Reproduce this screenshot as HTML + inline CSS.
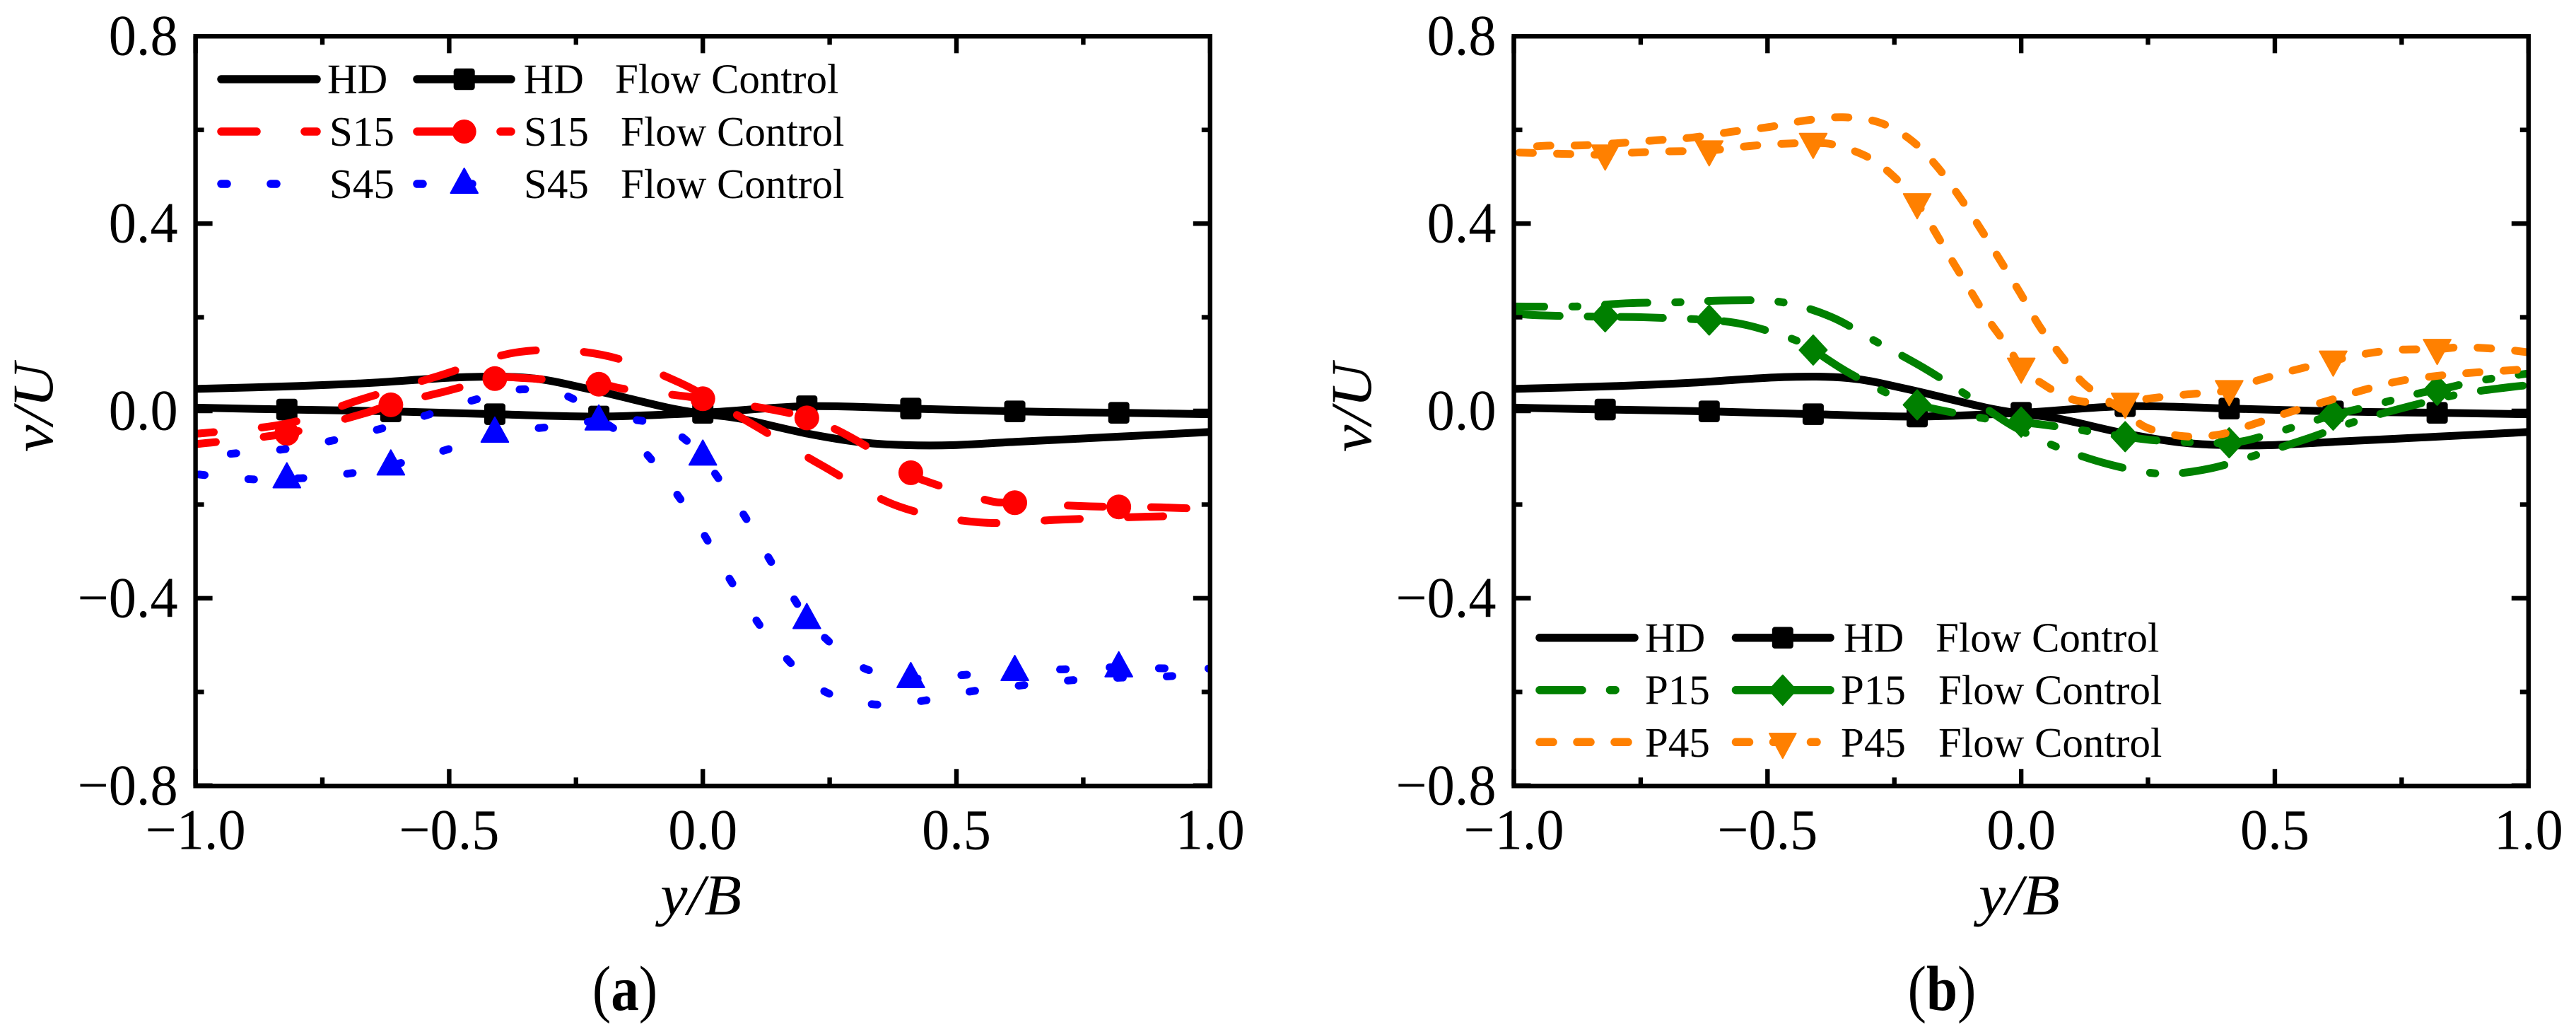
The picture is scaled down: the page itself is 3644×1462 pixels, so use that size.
<!DOCTYPE html>
<html lang="en">
<head>
<meta charset="utf-8">
<title>v/U velocity profiles with and without flow control</title>
<style>
html,body{margin:0;padding:0;background:#fff;}
svg{display:block;}
text{font-family:"Liberation Serif","Times New Roman",serif;fill:#000;}
</style>
</head>
<body>
<svg id="figure" xmlns="http://www.w3.org/2000/svg" width="3644" height="1462" viewBox="0 0 3644 1462">
<rect x="0" y="0" width="3644" height="1462" fill="#fff"/>
<defs>
<clipPath id="clip-a"><rect x="276.6" y="51.3" width="1435.2" height="1060"/></clipPath>
<clipPath id="clip-b"><rect x="2141.5" y="51.3" width="1435.3" height="1060"/></clipPath>
</defs>
<g id="plot-a"></g>
<g id="plot-b"></g>

<!-- Legend panel a -->
<g font-size="59">
  <g>
    <line x1="313" y1="112" x2="448" y2="112" stroke="#000" stroke-width="11.5" stroke-linecap="round"/>
    <text x="463" y="131.7">HD</text>
  </g>
  <g>
    <line x1="590" y1="112" x2="723" y2="112" stroke="#000" stroke-width="11.5" stroke-linecap="round"/>
    <rect x="641.7" y="96.7" width="30" height="30.6" rx="4" fill="#000"/>
    <text x="740.7" y="131.7">HD</text>
    <text x="870" y="131.7">Flow Control</text>
  </g>
  <g>
    <line x1="313" y1="186" x2="448" y2="186" stroke="#f00" stroke-width="11.5" stroke-linecap="round" stroke-dasharray="50 68"/>
    <text x="466" y="206">S15</text>
  </g>
  <g>
    <line x1="590" y1="186" x2="723" y2="186" stroke="#f00" stroke-width="11.5" stroke-linecap="round" stroke-dasharray="50 68"/>
    <circle cx="656.7" cy="186" r="17" fill="#f00"/>
    <text x="741" y="206">S15</text>
    <text x="878" y="206">Flow Control</text>
  </g>
  <g>
    <line x1="313" y1="260" x2="448" y2="260" stroke="#00f" stroke-width="11.5" stroke-linecap="round" stroke-dasharray="8 62"/>
    <text x="466" y="280">S45</text>
  </g>
  <g>
    <line x1="590" y1="260" x2="723" y2="260" stroke="#00f" stroke-width="11.5" stroke-linecap="round" stroke-dasharray="8 62"/>
    <polygon points="656.7,238 676,273 637.5,273" fill="#00f" stroke="#00f" stroke-width="2" stroke-linejoin="round"/>
    <text x="741" y="280">S45</text>
    <text x="878" y="280">Flow Control</text>
  </g>
</g>

<!-- Legend panel b -->
<g font-size="59">
  <g>
    <line x1="2178" y1="901.7" x2="2312" y2="901.7" stroke="#000" stroke-width="11.5" stroke-linecap="round"/>
    <text x="2327" y="921.7">HD</text>
  </g>
  <g>
    <line x1="2455.5" y1="901.7" x2="2589" y2="901.7" stroke="#000" stroke-width="11.5" stroke-linecap="round"/>
    <rect x="2506.8" y="886.4" width="30" height="30.6" rx="4" fill="#000"/>
    <text x="2608" y="921.7">HD</text>
    <text x="2738" y="921.7">Flow Control</text>
  </g>
  <g>
    <line x1="2178" y1="975.7" x2="2312" y2="975.7" stroke="#008000" stroke-width="11.5" stroke-linecap="round" stroke-dasharray="60 39.5 7.5 39"/>
    <text x="2327" y="995.7">P15</text>
  </g>
  <g>
    <line x1="2455.5" y1="975.7" x2="2589" y2="975.7" stroke="#008000" stroke-width="11.5" stroke-linecap="round"/>
    <polygon points="2521.8,954.7 2541,975.7 2521.8,997 2502.5,975.7" fill="#008000" stroke="#008000" stroke-width="2" stroke-linejoin="round"/>
    <text x="2604" y="995.7">P15</text>
    <text x="2742" y="995.7">Flow Control</text>
  </g>
  <g>
    <line x1="2178" y1="1049.3" x2="2312" y2="1049.3" stroke="#ff8000" stroke-width="11.5" stroke-linecap="round" stroke-dasharray="19 34"/>
    <text x="2327" y="1070">P45</text>
  </g>
  <g>
    <line x1="2455.5" y1="1049.3" x2="2570" y2="1049.3" stroke="#ff8000" stroke-width="11.5" stroke-linecap="round" stroke-dasharray="19 34"/>
    <polygon points="2521.8,1072 2503,1037 2540.6,1037" fill="#ff8000" stroke="#ff8000" stroke-width="2" stroke-linejoin="round"/>
    <text x="2604" y="1070">P45</text>
    <text x="2742" y="1070">Flow Control</text>
  </g>
</g>

<!-- Captions -->
<g transform="translate(884,1428) scale(.88,1)" font-size="90" text-anchor="middle"><text>(<tspan font-weight="bold">a</tspan>)</text></g>
<g transform="translate(2747,1428) scale(.88,1)" font-size="90" text-anchor="middle"><text>(<tspan font-weight="bold">b</tspan>)</text></g>
</svg>

<script>
// ---------- Shared axis values ----------
const xTicksMajor = [-1, -0.5, 0, 0.5, 1];
const xTicksMinor = [-0.75, -0.25, 0.25, 0.75];
const xTickLabels = ['\u22121.0', '\u22120.5', '0.0', '0.5', '1.0'];
const yTicksMajor = [0.8, 0.4, 0, -0.4, -0.8];
const yTicksMinor = [0.6, 0.2, -0.2, -0.6];
const yTickLabels = ['0.8', '0.4', '0.0', '\u22120.4', '\u22120.8'];
const markerX = [-0.82, -0.615, -0.41, -0.205, 0, 0.205, 0.41, 0.615, 0.82];

// ---------- HD (both panels) ----------
const hdX = [-1, -0.8, -0.652, -0.475, -0.34, -0.226, -0.069, 0.008, 0.076, 0.204, 0.312, 0.4, 0.495, 0.616, 0.82, 1];
const hdV = [0.047, 0.053, 0.06, 0.072, 0.07, 0.047, 0.007, -0.007, -0.017, -0.048, -0.067, -0.073, -0.073, -0.066, -0.055, -0.045];
const hdFcX = [-1, -0.82, -0.615, -0.41, -0.205, 0, 0.205, 0.41, 0.615, 0.82, 1];
const hdFcV = [0.007, 0.003, -0.001, -0.007, -0.012, -0.004, 0.01, 0.005, -0.001, -0.004, -0.007];

// ---------- Panel a ----------
const s15X = [-1, -0.82, -0.678, -0.52, -0.361, -0.2, -0.045, 0.094, 0.234, 0.384, 0.546, 0.709, 0.872, 1];
const s15V = [-0.049, -0.027, 0.023, 0.075, 0.126, 0.12, 0.06, -0.026, -0.116, -0.203, -0.238, -0.232, -0.226, -0.223];
const s15FcX = [-1, -0.82, -0.673, -0.615, -0.51, -0.41, -0.35, -0.205, -0.155, -0.048, 0, 0.13, 0.205, 0.281, 0.41, 0.44, 0.561, 0.615, 0.74, 0.82, 0.904, 1];
const s15FcV = [-0.071, -0.048, -0.007, 0.013, 0.041, 0.069, 0.07, 0.057, 0.047, 0.033, 0.026, 0.004, -0.015, -0.05, -0.132, -0.15, -0.191, -0.196, -0.203, -0.205, -0.206, -0.21];
const s45X = [-1, -0.925, -0.827, -0.733, -0.638, -0.544, -0.452, -0.356, -0.266, -0.194, -0.119, -0.055, 0, 0.048, 0.101, 0.155, 0.235, 0.331, 0.427, 0.522, 0.62, 0.717, 0.813, 0.911, 1];
const s45V = [-0.1, -0.091, -0.082, -0.064, -0.039, -0.009, 0.023, 0.046, 0.031, -0.024, -0.083, -0.172, -0.26, -0.35, -0.44, -0.517, -0.596, -0.626, -0.62, -0.6, -0.587, -0.576, -0.57, -0.567, -0.56];
const s45FcX = [-1, -0.891, -0.82, -0.782, -0.686, -0.615, -0.578, -0.485, -0.41, -0.372, -0.276, -0.205, -0.165, -0.073, 0, 0.023, 0.082, 0.13, 0.182, 0.205, 0.233, 0.315, 0.41, 0.451, 0.547, 0.615, 0.655, 0.751, 0.82, 0.861, 0.958, 1];
const s45FcV = [-0.135, -0.146, -0.1435, -0.143, -0.132, -0.116, -0.106, -0.076, -0.046, -0.042, -0.031, -0.02, -0.016, -0.034, -0.095, -0.132, -0.224, -0.314, -0.405, -0.444, -0.477, -0.548, -0.57, -0.569, -0.561, -0.555, -0.554, -0.55, -0.547, -0.549, -0.55, -0.55];

// ---------- Panel b ----------
const p15X = [-1, -0.88, -0.774, -0.676, -0.571, -0.471, -0.375, -0.286, -0.194, -0.109, -0.017, 0.073, 0.173, 0.275, 0.372, 0.47, 0.567, 0.666, 0.769, 0.865, 0.957, 1];
const p15V = [0.223, 0.223, 0.23, 0.232, 0.236, 0.232, 0.201, 0.148, 0.093, 0.035, -0.032, -0.078, -0.114, -0.134, -0.123, -0.092, -0.058, -0.02, 0.011, 0.036, 0.05, 0.055];
const p15FcX = [-1, -0.948, -0.82, -0.745, -0.615, -0.54, -0.447, -0.41, -0.344, -0.251, -0.205, -0.128, -0.038, 0, 0.075, 0.205, 0.281, 0.41, 0.486, 0.58, 0.615, 0.69, 0.786, 0.82, 0.9, 1];
const p15FcV = [0.208, 0.204, 0.201, 0.2, 0.194, 0.183, 0.152, 0.13, 0.084, 0.031, 0.013, -0.005, -0.022, -0.024, -0.034, -0.055, -0.064, -0.068, -0.051, -0.02, -0.009, 0.011, 0.038, 0.044, 0.064, 0.08];
const p45X = [-1, -0.941, -0.866, -0.79, -0.718, -0.646, -0.571, -0.498, -0.426, -0.352, -0.28, -0.218, -0.166, -0.119, -0.079, -0.04, -0.001, 0.036, 0.078, 0.126, 0.205, 0.248, 0.32, 0.393, 0.464, 0.534, 0.606, 0.676, 0.747, 0.822, 0.895, 0.968, 1];
const p45V = [0.56, 0.566, 0.567, 0.572, 0.578, 0.584, 0.596, 0.606, 0.62, 0.627, 0.616, 0.579, 0.522, 0.453, 0.387, 0.319, 0.25, 0.181, 0.119, 0.056, -0.002, -0.036, -0.054, -0.05, -0.026, -0.001, 0.022, 0.045, 0.064, 0.075, 0.082, 0.087, 0.09];
const p45FcX = [-1, -0.906, -0.82, -0.774, -0.7, -0.615, -0.569, -0.495, -0.41, -0.364, -0.297, -0.242, -0.205, -0.18, -0.143, -0.103, -0.065, -0.024, 0, 0.036, 0.106, 0.205, 0.25, 0.325, 0.41, 0.454, 0.527, 0.615, 0.663, 0.736, 0.82, 0.869, 0.942, 1];
const p45FcV = [0.552, 0.549, 0.547, 0.551, 0.554, 0.556, 0.562, 0.569, 0.572, 0.567, 0.539, 0.491, 0.443, 0.401, 0.333, 0.262, 0.195, 0.134, 0.092, 0.062, 0.023, 0.017, 0.026, 0.035, 0.044, 0.061, 0.084, 0.107, 0.119, 0.13, 0.132, 0.136, 0.132, 0.125];

const NS = 'http://www.w3.org/2000/svg';
const DASH = {solid: '', red: '50 68', blue: '8 62', green: '60 39.5 7.5 39', orange: '19 34'};

function make(parent, tag, attrs) {
  const el = document.createElementNS(NS, tag);
  for (const k in attrs) el.setAttribute(k, attrs[k]);
  parent.appendChild(el);
  return el;
}

function smoothPath(pts) {
  let d = 'M' + pts[0][0].toFixed(2) + ' ' + pts[0][1].toFixed(2);
  for (let i = 0; i < pts.length - 1; i++) {
    const p0 = pts[Math.max(0, i - 1)], p1 = pts[i], p2 = pts[i + 1], p3 = pts[Math.min(pts.length - 1, i + 2)];
    const c1x = p1[0] + (p2[0] - p0[0]) / 6, c1y = p1[1] + (p2[1] - p0[1]) / 6;
    const c2x = p2[0] - (p3[0] - p1[0]) / 6, c2y = p2[1] - (p3[1] - p1[1]) / 6;
    d += 'C' + c1x.toFixed(2) + ' ' + c1y.toFixed(2) + ' ' + c2x.toFixed(2) + ' ' + c2y.toFixed(2) + ' ' + p2[0].toFixed(2) + ' ' + p2[1].toFixed(2);
  }
  return d;
}

function drawMarker(g, kind, color, px, py, name) {
  let el;
  if (kind === 'square') {
    el = make(g, 'rect', {x: px - 15, y: py - 15.3, width: 30, height: 30.6, rx: 4, fill: color});
  } else if (kind === 'circle') {
    el = make(g, 'circle', {cx: px, cy: py, r: 17.5, fill: color});
  } else if (kind === 'up') {
    el = make(g, 'polygon', {points: px + ',' + (py - 21.5) + ' ' + (px + 19.3) + ',' + (py + 13.5) + ' ' + (px - 19.3) + ',' + (py + 13.5), fill: color, stroke: color, 'stroke-width': 2, 'stroke-linejoin': 'round'});
  } else if (kind === 'down') {
    el = make(g, 'polygon', {points: px + ',' + (py + 21.5) + ' ' + (px + 19.3) + ',' + (py - 13.5) + ' ' + (px - 19.3) + ',' + (py - 13.5), fill: color, stroke: color, 'stroke-width': 2, 'stroke-linejoin': 'round'});
  } else {
    el = make(g, 'polygon', {points: px + ',' + (py - 21) + ' ' + (px + 19.5) + ',' + py + ' ' + px + ',' + (py + 21) + ' ' + (px - 19.5) + ',' + py, fill: color, stroke: color, 'stroke-width': 2, 'stroke-linejoin': 'round'});
  }
  
  
}

function drawPanel(rootId, clipId, left, right, series) {
  const root = document.getElementById(rootId);
  const top = 51.3, bottom = 1111.3;
  const sx = function (x) { return left + (x + 1) / 2 * (right - left); };
  const sy = function (v) { return 581 - v * 662.2; };

  const plot = make(root, 'g', {'clip-path': 'url(#' + clipId + ')'});
  
  

  series.forEach(function (s) {
    const pts = s.x.map(function (x, i) { return [sx(x), sy(s.v[i])]; });
    const attrs = {d: smoothPath(pts), fill: 'none', stroke: s.color, 'stroke-width': 11, 'stroke-linecap': 'round', 'stroke-linejoin': 'round'};
    if (s.dash) { attrs['stroke-dasharray'] = s.dash; attrs['stroke-dashoffset'] = s.offset || 0; }
    const line = make(plot, 'path', attrs);
    
    
    if (s.marker) {
      s.x.forEach(function (x, i) {
        if (markerX.indexOf(x) >= 0) drawMarker(plot, s.marker, s.color, sx(x), sy(s.v[i]), s.name + '-marker');
      });
    }
  });

  const axes = make(root, 'g', {stroke: '#000', 'stroke-width': 6.4, fill: 'none'});
  
  
  const frame = make(axes, 'rect', {x: left, y: top, width: right - left, height: bottom - top, 'stroke-linejoin': 'miter'});
  
  

  function xTick(x, len, name) {
    const px = sx(x);
    const t1 = make(axes, 'line', {x1: px, y1: bottom, x2: px, y2: bottom - len});
    
    
    const t2 = make(axes, 'line', {x1: px, y1: top, x2: px, y2: top + len});
    
    
  }
  function yTick(v, len, name) {
    const py = sy(v);
    const t1 = make(axes, 'line', {x1: left, y1: py, x2: left + len, y2: py});
    
    
    const t2 = make(axes, 'line', {x1: right, y1: py, x2: right - len, y2: py});
    
    
  }
  xTicksMajor.forEach(function (x) { xTick(x, 24, 'x-major-tick'); });
  xTicksMinor.forEach(function (x) { xTick(x, 12, 'x-minor-tick'); });
  yTicksMajor.forEach(function (v) { yTick(v, 24, 'y-major-tick'); });
  yTicksMinor.forEach(function (v) { yTick(v, 12, 'y-minor-tick'); });

  function scaledText(txt, x, y, anchor, size, sxVal, name, italic, rot) {
    const g = make(root, 'g', {transform: 'translate(' + x + ',' + y + ')' + (rot ? ' rotate(' + rot + ')' : '') + ' scale(' + sxVal + ',1)'});
    
    
    const t = make(g, 'text', {'text-anchor': anchor, 'font-size': size});
    if (italic) t.setAttribute('font-style', 'italic');
    
    
    t.textContent = txt;
  }
  xTicksMajor.forEach(function (x, i) {
    scaledText(xTickLabels[i], sx(x), 1200.5, 'middle', 82, 0.955, 'x-tick-label', false, 0);
  });
  yTicksMajor.forEach(function (v, i) {
    scaledText(yTickLabels[i], left - 25, sy(v) + 26.5, 'end', 82, 0.955, 'y-tick-label', false, 0);
  });
  scaledText('y/B', left + 715, 1293, 'middle', 82, 1.05, 'x-axis-title', true, 0);
  scaledText('v/U', left - 202.6, 576.5, 'middle', 82, 1.06, 'y-axis-title', true, -90);
}

const panelASeries = [
  {name: 'hd', x: hdX, v: hdV, color: '#000', dash: DASH.solid},
  {name: 'hd-flow-control', x: hdFcX, v: hdFcV, color: '#000', dash: DASH.solid, marker: 'square'},
  {name: 's15', x: s15X, v: s15V, color: '#f00', dash: DASH.red, offset: 24},
  {name: 's15-flow-control', x: s15FcX, v: s15FcV, color: '#f00', dash: DASH.red, offset: 21, marker: 'circle'},
  {name: 's45', x: s45X, v: s45V, color: '#00f', dash: DASH.blue, offset: 20},
  {name: 's45-flow-control', x: s45FcX, v: s45FcV, color: '#00f', dash: DASH.blue, offset: 65, marker: 'up'}
];
const panelBSeries = [
  {name: 'hd', x: hdX, v: hdV, color: '#000', dash: DASH.solid},
  {name: 'hd-flow-control', x: hdFcX, v: hdFcV, color: '#000', dash: DASH.solid, marker: 'square'},
  {name: 'p15', x: p15X, v: p15V, color: '#008000', dash: DASH.green, offset: 17},
  {name: 'p15-flow-control', x: p15FcX, v: p15FcV, color: '#008000', dash: DASH.green, offset: 141, marker: 'diamond'},
  {name: 'p45', x: p45X, v: p45V, color: '#ff8000', dash: DASH.orange, offset: 20},
  {name: 'p45-flow-control', x: p45FcX, v: p45FcV, color: '#ff8000', dash: DASH.orange, offset: 45, marker: 'down'}
];
drawPanel('plot-a', 'clip-a', 276.6, 1711.8, panelASeries);
drawPanel('plot-b', 'clip-b', 2141.5, 3576.8, panelBSeries);
</script>
</body>
</html>
